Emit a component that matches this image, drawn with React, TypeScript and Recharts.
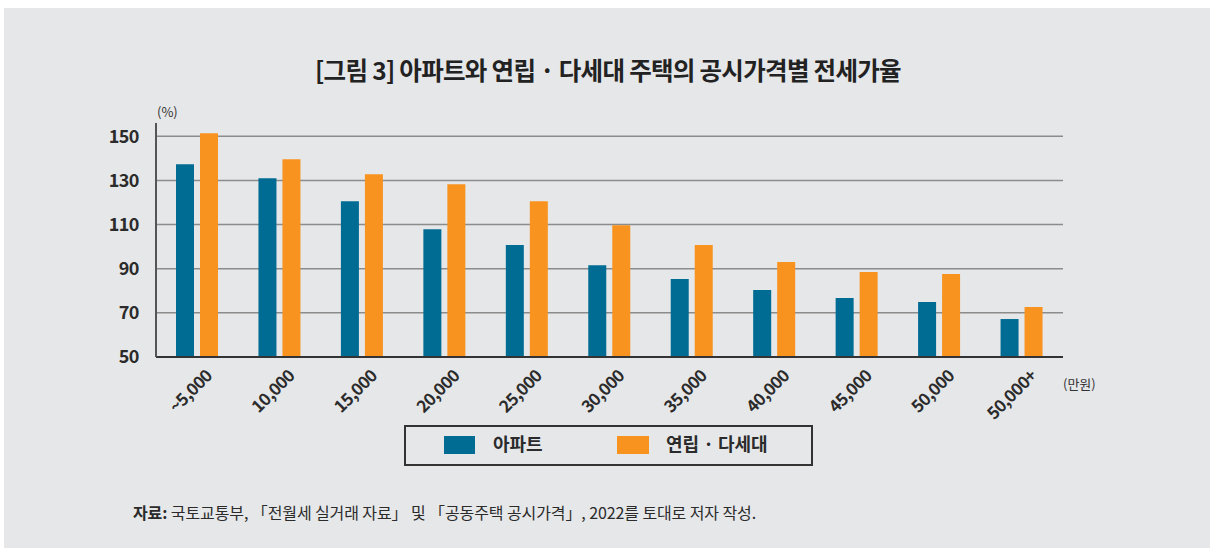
import { Bar, BarChart, CartesianGrid, XAxis, YAxis } from "recharts"

const categories = ["~5,000", "10,000", "15,000", "20,000", "25,000", "30,000", "35,000", "40,000", "45,000", "50,000", "50,000+"]
const apartment = [137.3, 131, 120.6, 107.9, 100.7, 91.6, 85.3, 80.3, 76.7, 74.9, 67.2]
const rowHouse = [151.4, 139.6, 132.8, 128.3, 120.6, 109.7, 100.7, 93, 88.5, 87.6, 72.6]
const yTicks = [50, 70, 90, 110, 130, 150]

const data = categories.map((label, i) => ({
  label,
  apartment: apartment[i],
  rowHouse: rowHouse[i],
}))

const BLUE = "#006b93"
const ORANGE = "#f7931e"
const FONT = "'Noto Sans CJK KR', 'Noto Sans', sans-serif"

if (typeof document !== "undefined") document.body.style.margin = "0"

function XTick({ x, y, payload }: any) {
  return (
    <text
      x={x + 16}
      y={y + 12}
      transform={`rotate(-45, ${x + 16}, ${y + 12})`}
      textAnchor="end"
      fontSize={17}
      fontWeight={700}
      fill="#2b2b2b"
      fontFamily={FONT}
      letterSpacing={-0.6}
    >
      {payload.value}
    </text>
  )
}

export default function App() {
  return (
    <div
      style={{
        position: "relative",
        margin: "8px 0 0 4px",
        width: 1206,
        height: 540,
        overflow: "hidden",
        background: "#e6e7e9",
        fontFamily: FONT,
        color: "#2b2b2b",
      }}
    >
      <div
        style={{
          position: "absolute",
          top: 44,
          left: 0,
          width: 1208,
          textAlign: "center",
          fontSize: 24.5,
          fontWeight: 700,
          letterSpacing: -0.7,
          color: "#222",
        }}
      >
        [그림 3] 아파트와 연립 · 다세대 주택의 공시가격별 전세가율
      </div>
      <div style={{ position: "absolute", left: 153, top: 94, fontSize: 13, color: "#333" }}>(%)</div>
      <div style={{ position: "absolute", left: 1059, top: 366, fontSize: 13, color: "#333" }}>(만원)</div>

      <BarChart
        width={1208}
        height={540}
        data={data}
        margin={{ top: 115, right: 149, bottom: 131, left: 92 }}
        barSize={18}
        barGap={6}
        style={{ position: "absolute", top: 0, left: 0 }}
      >
        <CartesianGrid
          horizontal
          vertical={false}
          horizontalValues={yTicks}
          stroke="#8c8c8c"
          strokeWidth={1.5}
        />
        <XAxis
          dataKey="label"
          interval={0}
          height={60}
          tickLine={false}
          axisLine={{ stroke: "#333", strokeWidth: 2 }}
          tick={<XTick />}
        />
        <YAxis
          width={60}
          domain={[50, 156]}
          ticks={yTicks}
          allowDataOverflow
          tickLine={false}
          tickMargin={11}
          axisLine={{ stroke: "#555", strokeWidth: 2 }}
          tick={{ fontSize: 18, fontWeight: 700, fill: "#2b2b2b", fontFamily: FONT, letterSpacing: -0.5 }}
        />
        <Bar dataKey="apartment" fill={BLUE} isAnimationActive={false} />
        <Bar dataKey="rowHouse" fill={ORANGE} isAnimationActive={false} />
      </BarChart>

      <div
        style={{
          position: "absolute",
          left: 400,
          top: 417,
          width: 405,
          height: 37,
          border: "2px solid #333",
        }}
      >
        <div style={{ position: "absolute", left: 38, top: 9, width: 31, height: 18, background: BLUE }} />
        <div style={{ position: "absolute", left: 87, top: 3, fontSize: 18, fontWeight: 700 }}>아파트</div>
        <div style={{ position: "absolute", left: 211, top: 9, width: 32, height: 18, background: ORANGE }} />
        <div style={{ position: "absolute", left: 260, top: 3, fontSize: 18, fontWeight: 700 }}>연립 · 다세대</div>
      </div>

      <div style={{ position: "absolute", left: 129, top: 492, fontSize: 16, letterSpacing: -0.1, color: "#2b2b2b" }}>
        <b>자료:</b> 국토교통부, 「전월세 실거래 자료」 및 「공동주택 공시가격」, 2022를 토대로 저자 작성.
      </div>
    </div>
  )
}
